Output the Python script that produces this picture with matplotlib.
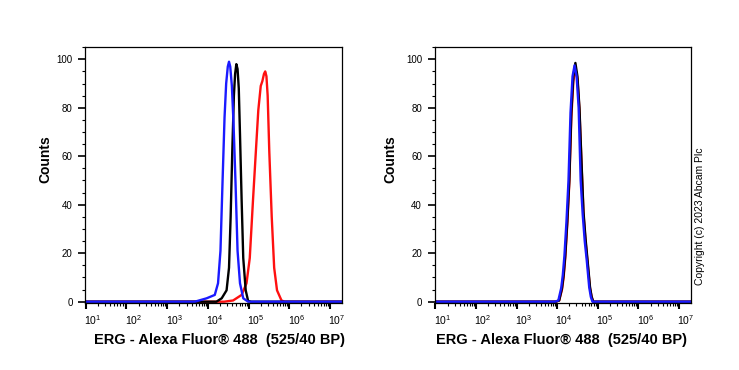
import numpy as np
import matplotlib
matplotlib.use("Agg")
import matplotlib.pyplot as plt
from matplotlib.ticker import LogLocator, LogFormatterSciNotation, MultipleLocator
from matplotlib.transforms import ScaledTranslation

plt.rcParams['font.family'] = ['Liberation Sans', 'DejaVu Sans']
plt.rcParams['mathtext.fontset'] = 'custom'
plt.rcParams['mathtext.rm'] = 'Liberation Sans'
plt.rcParams['mathtext.it'] = 'Liberation Sans'

# --- Data (x as log10 of intensity, y as counts) ---
left_red_logx = [0.98, 4.40, 4.62, 4.83, 4.95, 5.03, 5.11, 5.18, 5.24, 5.30, 5.34,
                 5.38, 5.41, 5.44, 5.47, 5.51, 5.57, 5.63, 5.70, 5.81, 5.89, 7.29]
left_red = [0, 0, 0.5, 2.8, 7.6, 18, 42, 62, 79, 89, 91, 94, 95, 93, 85, 62, 35, 14, 4.7,
            0.5, 0, 0]

left_black_logx = [0.98, 4.21, 4.34, 4.46, 4.52, 4.56, 4.60, 4.64, 4.67, 4.70, 4.73,
                   4.76, 4.79, 4.83, 4.87, 4.93, 4.99, 5.07, 7.29]
left_black = [0, 0, 1.4, 4.7, 14, 35, 62, 85, 94, 98, 96, 88, 69, 42, 18, 4.7, 0.3, 0, 0]

left_blue_logx = [0.98, 3.68, 3.97, 4.17, 4.25, 4.31, 4.36, 4.41, 4.45, 4.49, 4.52,
                  4.55, 4.59, 4.63, 4.68, 4.73, 4.79, 4.87, 4.99, 7.29]
left_blue = [0, 0, 1.4, 2.8, 7.6, 21, 49, 76, 90, 97, 99, 97, 89, 74, 49, 21, 7.6, 1.4,
             0, 0]

right_red_logx = [0.98, 3.97, 4.05, 4.12, 4.16, 4.20, 4.25, 4.30, 4.35, 4.40, 4.45,
                  4.50, 4.55, 4.60, 4.65, 4.70, 4.75, 4.81, 4.85, 4.89, 7.29]
right_red = [0, 0, 0.5, 5, 10, 18, 32, 49, 76, 91, 96, 92, 79, 57, 36, 25, 16, 5.5, 2, 0, 0]

right_black_logx = [0.98, 3.97, 4.05, 4.12, 4.16, 4.20, 4.25, 4.30, 4.35, 4.40, 4.45,
                    4.50, 4.55, 4.60, 4.65, 4.70, 4.75, 4.81, 4.85, 4.89, 7.29]
right_black = [0, 0, 0.5, 5.6, 11, 19, 33, 50, 78, 93, 98.5, 93, 80, 58, 37, 26, 17, 6,
               2, 0, 0]

right_blue_logx = [0.98, 3.95, 4.03, 4.10, 4.14, 4.18, 4.23, 4.28, 4.33, 4.38, 4.43,
                   4.48, 4.53, 4.58, 4.63, 4.68, 4.73, 4.79, 4.83, 4.87, 7.29]
right_blue = [0, 0, 0.5, 5.6, 11, 19, 33, 50, 78, 93, 97.5, 93, 80, 50, 36, 25, 17, 6,
              2, 0, 0]

x_label = "ERG - Alexa Fluor® 488  (525/40 BP)"
y_label = "Counts"
copyright_text = "Copyright (c) 2023 Abcam Plc"

W, H = 739, 370
fig = plt.figure(figsize=(W / 100, H / 100), dpi=100)

# axes boxes in pixel coords: left, right, top, bottom
boxes = [(85, 341.7, 46.7, 303), (434.5, 690.7, 46.7, 303)]
panels = [
    [(left_red_logx, left_red, '#ff1010'), (left_black_logx, left_black, 'black'),
     (left_blue_logx, left_blue, '#1a1aff')],
    [(right_red_logx, right_red, '#ff1010'), (right_black_logx, right_black, 'black'),
     (right_blue_logx, right_blue, '#1a1aff')],
]
xlabel_centers = [220, 561.5]
ylabel_centers = [45, 390]

for (l, r, t, b), curves, xc, yc in zip(boxes, panels, xlabel_centers, ylabel_centers):
    ax = fig.add_axes([l / W, 1 - b / H, (r - l) / W, (b - t) / H])
    for lx, cnt, col in curves:
        ax.plot(10 ** np.array(lx), cnt, color=col, lw=1.7, solid_joinstyle='round')
    ax.set_xscale('log')
    ax.set_xlim(10 ** 0.98, 10 ** 7.29)
    ax.set_ylim(-0.54, 105.2)
    ax.xaxis.set_major_locator(LogLocator(base=10, numticks=20))
    ax.xaxis.set_minor_locator(LogLocator(base=10, subs=np.arange(2, 10), numticks=20))
    ax.xaxis.set_major_formatter(LogFormatterSciNotation())
    ax.yaxis.set_minor_locator(MultipleLocator(5))
    ax.set_yticks([0, 20, 40, 60, 80, 100])
    for s in ax.spines.values():
        s.set_linewidth(0.9)
    ax.tick_params(axis='x', which='major', length=4, width=1.5, labelsize=7.5, pad=3)
    ax.tick_params(axis='x', which='minor', length=2.5, width=0.8)
    ax.tick_params(axis='y', which='major', length=5, width=1.2, labelsize=7, pad=4)
    ax.tick_params(axis='y', which='minor', length=2.5, width=0.8)
    offset = ScaledTranslation(7 / 100, 0, fig.dpi_scale_trans)
    for lab in ax.get_xticklabels():
        lab.set_transform(lab.get_transform() + offset)
    fig.text(xc / W, 1 - 344 / H, x_label, ha='center', va='baseline',
             fontsize=10.5, fontweight='bold')
    fig.text(yc / W, 1 - 159 / H, y_label, ha='center', va='center',
             rotation=90, fontsize=10, fontweight='bold')

fig.text(700 / W, 1 - 216 / H, copyright_text, ha='center', va='center',
         rotation=90, fontsize=7.5)

fig.savefig('out.png', dpi=100)
